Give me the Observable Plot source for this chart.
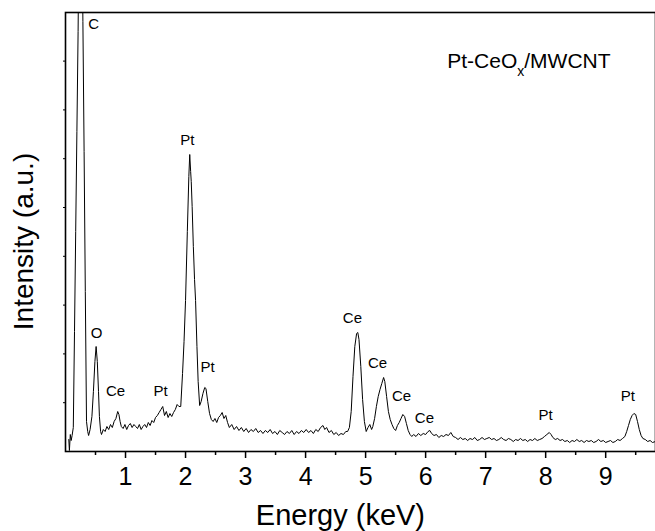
<!DOCTYPE html>
<html>
<head>
<meta charset="utf-8">
<script src="https://cdn.jsdelivr.net/npm/d3@7"></script>
<script src="https://cdn.jsdelivr.net/npm/@observablehq/plot@0.6"></script>
<style>
  html, body { margin: 0; padding: 0; background: #fff; }
  #chart { width: 655px; height: 531px; }
</style>
</head>
<body>
<div id="chart"></div>
<script>
// EDX spectrum (energy in keV, intensity in arbitrary units)
const energy = [
  0.055, 0.065, 0.08, 0.095, 0.11, 0.13, 0.15, 0.17, 0.19, 0.21, 0.23, 0.25, 0.27, 0.29, 0.31, 0.33, 0.35, 0.37, 0.385,
  0.41, 0.44, 0.465, 0.49, 0.51, 0.53, 0.55, 0.565, 0.585, 0.60,
  0.63, 0.66, 0.69, 0.72, 0.75, 0.78, 0.81, 0.84, 0.87, 0.89, 0.91, 0.93, 0.96, 0.99, 1.02, 1.05, 1.08, 1.11, 1.14, 1.17,
  1.20, 1.23, 1.26, 1.29, 1.32, 1.35, 1.38, 1.41, 1.44, 1.47, 1.50, 1.53, 1.56, 1.59, 1.62, 1.65, 1.68, 1.71, 1.74, 1.77,
  1.80, 1.83, 1.86, 1.89,
  1.92, 1.95, 1.975, 2.00, 2.03, 2.055, 2.07, 2.085, 2.095, 2.11, 2.13, 2.15, 2.167, 2.19, 2.21, 2.235, 2.26, 2.29, 2.32,
  2.34, 2.37, 2.40, 2.43, 2.46, 2.49, 2.52, 2.55, 2.58, 2.61, 2.64, 2.67, 2.70,
  2.73, 2.77, 2.81, 2.85, 2.89, 2.93, 2.97, 3.01, 3.05, 3.09, 3.13, 3.17, 3.21, 3.25, 3.29, 3.33, 3.37, 3.41, 3.45, 3.49,
  3.53, 3.57, 3.61, 3.65, 3.69, 3.73, 3.77, 3.81, 3.85, 3.89, 3.93, 3.97, 4.01, 4.05, 4.09, 4.13, 4.17, 4.21, 4.25, 4.29,
  4.32, 4.35, 4.39, 4.43, 4.47, 4.51, 4.55, 4.59, 4.63, 4.67,
  4.70, 4.73, 4.76, 4.79, 4.82, 4.85, 4.87, 4.89, 4.92, 4.95, 4.98, 5.01, 5.04, 5.07, 5.10,
  5.12, 5.15, 5.18, 5.21, 5.24, 5.27, 5.30, 5.32, 5.35, 5.38, 5.41, 5.44, 5.47, 5.50,
  5.53, 5.56, 5.59, 5.62, 5.65, 5.68, 5.71, 5.74, 5.77,
  5.80, 5.84, 5.88, 5.92, 5.96, 6.00, 6.04, 6.07, 6.10, 6.14, 6.18, 6.22, 6.26,
  6.30, 6.34, 6.38, 6.42, 6.46, 6.50, 6.54, 6.58, 6.62, 6.66, 6.70, 6.74, 6.78, 6.82, 6.86, 6.90, 6.94, 6.98, 7.02, 7.06,
  7.10, 7.14, 7.18, 7.22, 7.26, 7.30, 7.34, 7.38, 7.42, 7.46, 7.50, 7.54, 7.58, 7.62, 7.66, 7.70, 7.74, 7.78, 7.82, 7.86,
  7.90, 7.94, 7.98, 8.02, 8.06, 8.09, 8.12, 8.16, 8.20, 8.24, 8.28, 8.32, 8.36, 8.40, 8.44, 8.48, 8.52, 8.56, 8.60, 8.64,
  8.68, 8.72, 8.76, 8.80, 8.84, 8.88, 8.92, 8.96, 9.00, 9.04, 9.08, 9.12, 9.16, 9.20, 9.24, 9.28, 9.32, 9.35, 9.38, 9.41,
  9.44, 9.47, 9.50, 9.53, 9.56, 9.59, 9.62, 9.66, 9.70, 9.74, 9.78, 9.83
];
const intensity = [
  12, 1, 17, 11, 16, 24, 120, 220, 320, 420, 560, 620, 560, 430, 300, 160, 30, 20, 16,
  22, 35, 60, 90, 105, 90, 60, 35, 20, 17,
  22, 20, 25, 22, 27, 24, 30, 33, 40, 37, 30, 25, 23, 27, 22, 26, 28, 24, 27, 25,
  23, 27, 22, 25, 27, 24, 29, 26, 31, 29, 34, 36, 39, 42, 45, 36, 40, 34, 38, 35,
  39, 42, 47, 45,
  45, 78, 110, 151, 220, 275, 297, 280, 270, 245, 205, 172, 151, 105, 70, 46, 50, 58, 64,
  63, 50, 38, 32, 30, 33, 29, 34, 36, 39, 33, 36, 29,
  24, 27, 22, 25, 21, 24, 20, 23, 19, 22, 20, 23, 19, 21, 18, 21, 19, 22, 18, 20,
  17, 21, 19, 17, 20, 18, 21, 17, 20, 18, 21, 19, 22, 19, 21, 18, 22, 20, 24, 26,
  22, 24, 19, 21, 17, 19, 16, 18, 17, 20,
  20, 24, 40, 75, 105, 118, 119, 112, 85, 52, 30, 20, 24, 27, 22,
  25, 33, 45, 55, 62, 68, 74, 70, 55, 40, 32, 27, 23, 21,
  26, 29, 33, 37, 35, 28, 21, 17, 15,
  17, 15, 18, 16, 18, 17, 20, 21, 18, 16, 17, 14, 16,
  15, 17, 16, 19, 15, 14, 12, 14, 12, 13, 11, 13, 12, 14, 11, 12, 14, 12, 13, 14,
  12, 13, 11, 12, 14, 12, 11, 13, 12, 10, 12, 11, 13, 11, 12, 10, 12, 11, 13, 11,
  12, 13, 15, 17, 19, 17, 14, 12, 13, 11, 12, 10, 11, 9, 11, 10, 12, 10, 11, 9,
  11, 10, 11, 9, 10, 12, 10, 11, 9, 10, 11, 9, 10, 12, 11, 13, 15, 20, 26, 32,
  36, 38, 37, 30, 22, 16, 13, 12, 10, 11, 9, 10
];

// Peak annotations
const peakLabels = ["C", "O", "Ce", "Pt", "Pt", "Pt", "Ce", "Ce", "Ce", "Ce", "Pt", "Pt"];
const peakLabelE = [0.47, 0.517, 0.833, 1.583, 2.03, 2.367, 4.78, 5.2, 5.6, 5.98, 8.0, 9.37];
const peakLabelI = [427, 118, 60, 60, 311, 84, 133, 88, 55, 33, 36, 55];

const majorTicks = [1, 2, 3, 4, 5, 6, 7, 8, 9];
const minorTicks = [0.5, 1.5, 2.5, 3.5, 4.5, 5.5, 6.5, 7.5, 8.5, 9.5];
const xTitle = "Energy (keV)";
const yTitle = "Intensity (a.u.)";
const sampleTitle = "Pt-CeOx/MWCNT";

const spectrum = energy.map((e, i) => ({e, c: intensity[i]}));
const labels = peakLabels.map((t, i) => ({t, e: peakLabelE[i], c: peakLabelI[i]}));
const yTicks = d3.range(1, 9).map(k => k * 48.8);

const chart = Plot.plot({
  width: 655,
  height: 531,
  marginLeft: 65,
  marginTop: 12,
  marginBottom: 80,
  marginRight: 0,
  style: {fontFamily: "'Liberation Sans', Arial, sans-serif", background: "white", color: "black", overflow: "visible"},
  x: {domain: [0, 9.83], label: null},
  y: {domain: [0, 439], label: null},
  marks: [
    Plot.line(spectrum, {x: "e", y: "c", stroke: "black", strokeWidth: 1, clip: true}),
    Plot.frame({stroke: "black", strokeWidth: 1.6}),
    Plot.axisX({ticks: majorTicks, tickSize: 7, tickPadding: 9, fontSize: 25, label: null, strokeWidth: 1.5, tickFormat: d => String(d)}),
    Plot.axisX({ticks: minorTicks, tickSize: 4, label: null, strokeWidth: 1.5, tickFormat: () => ""}),
    Plot.axisY({ticks: yTicks, tickSize: 2, label: null, tickFormat: () => ""}),
    Plot.text(labels, {x: "e", y: "c", text: "t", fontSize: 15, fill: "black"}),
    Plot.text([xTitle], {x: 4.58, y: 0, dy: 64, text: d => d, fontSize: 29, fill: "black"}),
    Plot.text([yTitle], {x: 0, y: 210, dx: -41, text: d => d, fontSize: 28, rotate: -90, fill: "black"}),
    Plot.text([sampleTitle], {x: 6.36, y: 390, text: d => d, textAnchor: "start", fontSize: 21, fill: "black"})
  ]
});

// subscript x in the sample title
chart.querySelectorAll("text").forEach(t => {
  if (t.textContent === sampleTitle) {
    t.innerHTML = 'Pt-CeO<tspan dy="8" font-size="14">x</tspan><tspan dy="-8">/MWCNT</tspan>';
  }
});

document.getElementById("chart").appendChild(chart);
</script>
</body>
</html>
